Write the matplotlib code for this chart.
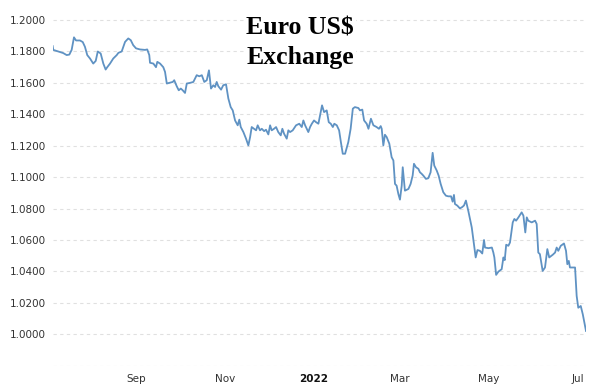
import matplotlib
matplotlib.use("Agg")
import matplotlib.pyplot as plt
import matplotlib.dates as mdates
import pandas as pd

start_date = "2021-07-06"
end_date = "2022-07-06 12:00"

# days since start_date
days = [0.0, 0.4, 3.8, 7.2, 9.6, 11.4, 13.0, 14.6, 16.0, 18.7, 20.6, 22.1, 23.7, 25.6, 27.8,
        29.5, 30.9, 32.9, 34.7, 36.3, 37.4, 39.3, 41.5, 43.9, 45.0, 47.3, 49.6, 51.8, 53.5,
        55.2, 57.1, 59.8, 63.3, 64.8, 66.2, 66.7, 69.0, 70.8, 71.7, 73.6, 75.8, 77.0, 78.2,
        79.9, 82.3, 83.3, 85.0, 86.4, 87.8, 89.1, 90.7, 91.9, 94.1, 96.4, 98.7, 100.5,
        102.2, 103.9, 105.6, 107.1, 108.5, 110.1, 111.3, 112.4, 113.5, 115.4, 116.9, 118.8,
        120.4, 122.0, 123.4, 125.0, 126.8, 127.9, 128.9, 130.7, 132.5, 134.1, 135.3, 136.4,
        138.0, 139.4, 140.5, 142.1, 143.3, 144.9, 146.2, 147.8, 149.0, 150.1, 151.7, 153.1,
        154.6, 156.3, 157.4, 158.6, 160.4, 161.5, 162.7, 164.5, 166.8, 169.0, 170.7, 171.8,
        173.0, 174.1, 175.2, 176.4, 177.6, 179.1, 180.5, 182.1, 183.2, 184.6, 186.0, 187.8,
        189.2, 190.6, 192.0, 193.0, 194.7, 196.3, 197.4, 198.8, 200.4, 202.6, 204.2, 205.7,
        207.1, 209.5, 210.6, 212.2, 213.4, 215.2, 216.4, 218.1, 219.8, 222.0, 223.6, 224.8,
        225.5, 226.6, 227.7, 228.9, 230.7, 232.3, 233.5, 234.6, 235.7, 236.9, 238.0, 239.2,
        239.9, 241.4, 243.8, 245.3, 246.7, 247.6, 249.0, 250.6, 251.7, 252.9, 254.0, 255.8,
        257.4, 259.0, 260.4, 261.5, 263.2, 264.5, 265.9, 267.7, 269.5, 271.1, 273.0, 274.1,
        275.0, 275.7, 277.3, 279.1, 280.7, 281.9, 283.2, 284.8, 287.2, 288.7, 289.9, 291.1,
        292.8, 294.4, 295.6, 296.3, 298.6, 301.0, 302.0, 302.7, 303.9, 305.5, 307.7, 308.9,
        309.8, 310.8, 312.3, 313.4, 315.3, 316.4, 317.6, 319.2, 321.4, 322.6, 323.9, 324.9,
        325.9, 328.3, 330.6, 331.7, 332.8, 333.9, 335.8, 337.4, 339.0, 340.3, 342.7, 344.3,
        345.4, 346.5, 348.2, 350.4, 351.8, 352.7, 353.7, 354.5, 358.0, 359.1, 360.2, 361.9,
        363.3, 365.5]

rate = [1.1834, 1.1810, 1.1800, 1.1790, 1.1777, 1.1780, 1.1810, 1.1890, 1.1870, 1.1870,
        1.1860, 1.1830, 1.1777, 1.1755, 1.1723, 1.1740, 1.1800, 1.1787, 1.1723, 1.1685,
        1.1700, 1.1723, 1.1755, 1.1777, 1.1791, 1.1800, 1.1861, 1.1883, 1.1872, 1.1840,
        1.1820, 1.1813, 1.1810, 1.1813, 1.1777, 1.1728, 1.1723, 1.1700, 1.1734, 1.1723,
        1.1700, 1.1670, 1.1596, 1.1600, 1.1606, 1.1617, 1.1579, 1.1553, 1.1564, 1.1553,
        1.1536, 1.1596, 1.1600, 1.1606, 1.1649, 1.1642, 1.1649, 1.1606, 1.1617, 1.1680,
        1.1564, 1.1585, 1.1574, 1.1606, 1.1579, 1.1557, 1.1585, 1.1591, 1.1500, 1.1446,
        1.1425, 1.1361, 1.1330, 1.1366, 1.1319, 1.1287, 1.1245, 1.1202, 1.1255, 1.1319,
        1.1308, 1.1298, 1.1330, 1.1298, 1.1308, 1.1293, 1.1302, 1.1272, 1.1330, 1.1298,
        1.1308, 1.1319, 1.1287, 1.1266, 1.1308, 1.1276, 1.1245, 1.1298, 1.1287, 1.1298,
        1.1330, 1.1340, 1.1319, 1.1361, 1.1330, 1.1308, 1.1287, 1.1319, 1.1340, 1.1361,
        1.1350, 1.1340, 1.1393, 1.1457, 1.1414, 1.1425, 1.1350, 1.1340, 1.1319, 1.1340,
        1.1330, 1.1298, 1.1230, 1.1149, 1.1149, 1.1223, 1.1308, 1.1436, 1.1446, 1.1440,
        1.1425, 1.1430, 1.1361, 1.1340, 1.1308, 1.1372, 1.1330, 1.1319, 1.1308, 1.1325,
        1.1308, 1.1202, 1.1270, 1.1255, 1.1213, 1.1127, 1.1106, 1.0957, 1.0946, 1.0893,
        1.0857, 1.0946, 1.1063, 1.0914, 1.0925, 1.0957, 1.1010, 1.1085, 1.1063, 1.1053,
        1.1031, 1.1021, 1.1010, 1.0989, 1.0993, 1.1031, 1.1155, 1.1074, 1.1042, 1.1010,
        1.0957, 1.0904, 1.0882, 1.0878, 1.0878, 1.0844, 1.0887, 1.0829, 1.0819, 1.0801,
        1.0810, 1.0820, 1.0851, 1.0787, 1.0680, 1.0574, 1.0489, 1.0536, 1.0531, 1.0514,
        1.0600, 1.0552, 1.0548, 1.0552, 1.0520, 1.0489, 1.0378, 1.0399, 1.0414, 1.0489,
        1.0472, 1.0570, 1.0563, 1.0584, 1.0712, 1.0734, 1.0723, 1.0744, 1.0776, 1.0755,
        1.0648, 1.0744, 1.0723, 1.0712, 1.0723, 1.0702, 1.0520, 1.0510, 1.0403, 1.0425,
        1.0542, 1.0489, 1.0506, 1.0520, 1.0552, 1.0531, 1.0563, 1.0578, 1.0531, 1.0446,
        1.0467, 1.0425, 1.0425, 1.0244, 1.0169, 1.0180, 1.0127, 1.0021]

y_ticks = [0.98, 1.00, 1.02, 1.04, 1.06, 1.08, 1.10, 1.12, 1.14, 1.16, 1.18, 1.20]
x_tick_dates = ["2021-09-01", "2021-11-01", "2022-01-01", "2022-03-01", "2022-05-01", "2022-07-01"]
x_tick_labels = ["Sep", "Nov", "2022", "Mar", "May", "Jul"]
title_lines = ["Euro US$", "Exchange"]

dates = pd.Timestamp(start_date) + pd.to_timedelta(days, unit="D")

fig = plt.figure(figsize=(6.14, 3.84), dpi=100)
ax = fig.add_axes([0.0858, 0.0477, 0.9544 - 0.0858, 0.9887 - 0.0477])
ax.plot(dates, rate, color="#5f92c3", linewidth=1.3)

ax.set_xlim(pd.Timestamp(start_date), pd.Timestamp(end_date))
ax.set_ylim(0.98, 1.21)
ax.set_yticks(y_ticks)
ax.set_yticklabels(["" if v < 0.99 else f"{v:.4f}" for v in y_ticks])
ax.grid(axis="y", color="#e0e0e0", linestyle=(0, (3, 3)), linewidth=0.8)
ax.set_xticks([mdates.date2num(pd.Timestamp(d)) for d in x_tick_dates])
ax.set_xticklabels(x_tick_labels)
for s in ax.spines.values():
    s.set_visible(False)
ax.tick_params(axis="both", length=0, labelsize=7.5, colors="#333333")
ax.tick_params(axis="y", pad=5)
ax.tick_params(axis="x", pad=6)
for lab in ax.get_xticklabels():
    if lab.get_text() == "2022":
        lab.set_fontweight("bold")
        lab.set_color("#111111")

for txt, yb in zip(title_lines, [0.909, 0.833]):
    fig.text(0.489, yb, txt, ha="center", va="baseline", fontsize=18.5, fontweight="bold",
             family="Liberation Serif",
             bbox=dict(facecolor="white", edgecolor="none", pad=1.5))

fig.savefig("out.png", dpi=100)
